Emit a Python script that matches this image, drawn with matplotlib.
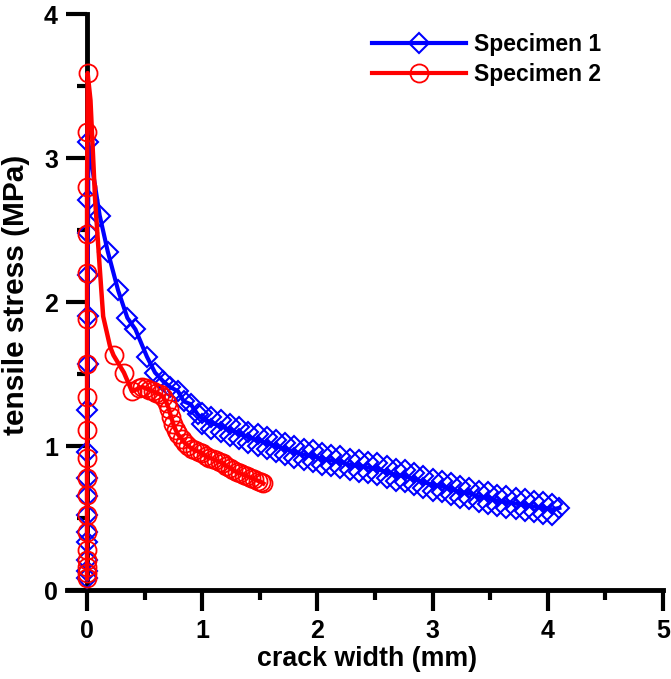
import matplotlib
matplotlib.use("Agg")
import numpy as np
from matplotlib import pyplot as plt
from matplotlib.lines import Line2D
from matplotlib.ticker import MultipleLocator

plt.rcParams["font.family"] = ["Liberation Sans", "DejaVu Sans"]
plt.rcParams["font.weight"] = "bold"

# Specimen 1 (blue diamonds)
s1_rise_x = [0.0, 0.0, 0.0, 0.0, 0.0, 0.0, 0.0, 0.0, 0.0, 0.003, 0.005, 0.005, 0.007, 0.008, 0.01, 0.01]
s1_rise_y = [0.08, 0.13, 0.21, 0.33, 0.40, 0.52, 0.65, 0.78, 0.96, 1.25, 1.57, 1.90, 2.19, 2.48, 2.71, 3.11]
s1_fall_x = [0.11, 0.18, 0.27, 0.35, 0.42, 0.52, 0.59, 0.66, 0.72, 0.79, 0.84, 0.90, 0.96]
s1_fall_y = [2.60, 2.35, 2.08, 1.89, 1.81, 1.62, 1.51, 1.45, 1.41, 1.38, 1.31, 1.29, 1.22]
s1_tail_x = [1.00, 1.08, 1.16, 1.24, 1.32, 1.40, 1.48, 1.56, 1.64, 1.72, 1.80, 1.88, 1.96,
             2.04, 2.12, 2.20, 2.28, 2.36, 2.44, 2.52, 2.60, 2.68, 2.76, 2.84, 2.92, 3.00,
             3.08, 3.16, 3.24, 3.32, 3.40, 3.48, 3.56, 3.64, 3.72, 3.80, 3.88, 3.96, 4.04]
s1_tail_mid = [1.19, 1.16, 1.14, 1.11, 1.09, 1.06, 1.04, 1.02, 1.00, 0.98, 0.96, 0.94, 0.93,
               0.91, 0.90, 0.89, 0.87, 0.86, 0.85, 0.84, 0.82, 0.80, 0.79, 0.77, 0.75, 0.73,
               0.72, 0.70, 0.68, 0.67, 0.65, 0.64, 0.62, 0.61, 0.60, 0.59, 0.58, 0.57, 0.56]
s1_tail_hi = [1.23, 1.20, 1.18, 1.15, 1.13, 1.10, 1.08, 1.06, 1.04, 1.02, 1.00, 0.98, 0.97,
              0.95, 0.94, 0.93, 0.91, 0.90, 0.89, 0.88, 0.86, 0.84, 0.83, 0.81, 0.79, 0.77,
              0.76, 0.74, 0.72, 0.71, 0.69, 0.68, 0.66, 0.65, 0.64, 0.63, 0.62, 0.61, 0.60]
s1_tail_lo = [1.15, 1.12, 1.10, 1.07, 1.05, 1.02, 1.00, 0.98, 0.96, 0.94, 0.92, 0.90, 0.89,
              0.87, 0.86, 0.85, 0.83, 0.82, 0.81, 0.80, 0.78, 0.76, 0.75, 0.73, 0.71, 0.69,
              0.68, 0.66, 0.64, 0.63, 0.61, 0.60, 0.58, 0.57, 0.56, 0.55, 0.54, 0.53, 0.52]
s1_end_x = [4.10]
s1_end_y = [0.57]

# Specimen 2 (red circles)
s2_rise_x = [0.0, 0.0, 0.0, 0.0, 0.0, 0.0, 0.0, 0.0, 0.0, 0.0, 0.0, 0.0, 0.0, 0.0, 0.0,
             0.0, 0.0, 0.003, 0.005]
s2_rise_y = [0.08, 0.12, 0.16, 0.21, 0.28, 0.40, 0.52, 0.66, 0.78, 0.92, 1.11, 1.34, 1.57,
             1.88, 2.20, 2.47, 2.80, 3.18, 3.59]
s2_drop_x = [0.03, 0.07, 0.11, 0.14, 0.20]
s2_drop_y = [3.40, 2.71, 2.24, 1.90, 1.69]
s2_tail_x = [0.23, 0.32, 0.39, 0.45, 0.48, 0.51, 0.54, 0.57, 0.60, 0.63, 0.66, 0.69, 0.71,
             0.73, 0.75, 0.77, 0.79, 0.82, 0.85, 0.88, 0.91, 0.94, 0.97, 1.00, 1.03, 1.06,
             1.09, 1.12, 1.15, 1.18, 1.21, 1.24, 1.27, 1.30, 1.33, 1.36, 1.39, 1.42, 1.45,
             1.48, 1.51, 1.53]
s2_tail_y = [1.63, 1.51, 1.38, 1.40, 1.41, 1.40, 1.39, 1.38, 1.37, 1.36, 1.34, 1.30, 1.26,
             1.20, 1.15, 1.11, 1.08, 1.05, 1.02, 1.00, 0.98, 0.97, 0.96, 0.95, 0.93, 0.92,
             0.91, 0.90, 0.89, 0.88, 0.86, 0.85, 0.83, 0.82, 0.81, 0.80, 0.79, 0.78, 0.77,
             0.76, 0.75, 0.74]

labels = ["Specimen 1", "Specimen 2"]
blue = "#0000ff"
red = "#ff0000"

# build line and marker arrays
s1_line_x = s1_rise_x + s1_fall_x + s1_tail_x + s1_end_x
s1_line_y = s1_rise_y + s1_fall_y + s1_tail_mid + s1_end_y
tail_x2 = np.repeat(s1_tail_x, 2)
tail_y2 = np.column_stack([s1_tail_hi, s1_tail_lo]).ravel()
s1_mark_x = np.concatenate([s1_rise_x, s1_fall_x, tail_x2, s1_end_x])
s1_mark_y = np.concatenate([s1_rise_y, s1_fall_y, tail_y2, s1_end_y])

s2_line_x = s2_rise_x + s2_drop_x + s2_tail_x
s2_line_y = s2_rise_y + s2_drop_y + s2_tail_y
s2_mark_x = s2_rise_x + s2_tail_x
s2_mark_y = s2_rise_y + s2_tail_y

fig = plt.figure(figsize=(6.71, 6.79), dpi=100)
ax = fig.add_axes([67 / 671, 1 - 590 / 679, 596 / 671, 576 / 679])

ax.plot(s1_line_x, s1_line_y, color=blue, lw=3, zorder=3)
ax.plot(s1_mark_x, s1_mark_y, ls="none", marker="D", ms=10.5, mfc="none",
        mec=blue, mew=1.5, zorder=3)
ax.plot(s2_line_x, s2_line_y, color=red, lw=3.2, zorder=4)
ax.plot(s2_mark_x, s2_mark_y, ls="none", marker="o", ms=13, mfc="none",
        mec=red, mew=1.3, zorder=4)

ax.set_xlim(-0.174, 5)
ax.set_ylim(0, 4)
ax.spines["left"].set_position(("data", 0))
ax.spines["right"].set_visible(False)
ax.spines["top"].set_visible(False)
for s in ("left", "bottom"):
    ax.spines[s].set_linewidth(3.5)
ax.spines["left"].set_capstyle("projecting")

ax.xaxis.set_major_locator(MultipleLocator(1))
ax.xaxis.set_minor_locator(MultipleLocator(0.5))
ax.yaxis.set_major_locator(MultipleLocator(1))
ax.yaxis.set_minor_locator(MultipleLocator(0.5))
ax.tick_params(which="major", direction="out", length=15, width=3, labelsize=18, pad=6)
ax.tick_params(which="minor", direction="out", length=7, width=3)

ax.set_xlabel("crack width (mm)", fontsize=19.3, fontweight="bold")
ax.set_ylabel("tensile stress (MPa)", fontsize=21.5, fontweight="bold")
ax.xaxis.set_label_coords(0.503, -0.097)
ax.yaxis.set_label_coords(-0.062, 0.512)

handles = [
    Line2D([], [], color=blue, lw=3, marker="D", ms=10.5, mfc="none", mec=blue, mew=1.5),
    Line2D([], [], color=red, lw=3, marker="o", ms=13, mfc="none", mec=red, mew=1.3),
]
ax.legend(handles, labels, loc="upper left", bbox_to_anchor=(372 / 671, 1 - 33 / 679),
          bbox_transform=fig.transFigure, frameon=False, borderaxespad=0, borderpad=0,
          handlelength=4.1, handletextpad=0.35, labelspacing=0.3, numpoints=1,
          prop={"size": 16.5, "weight": "bold"})

fig.savefig("out.png", dpi=100)
